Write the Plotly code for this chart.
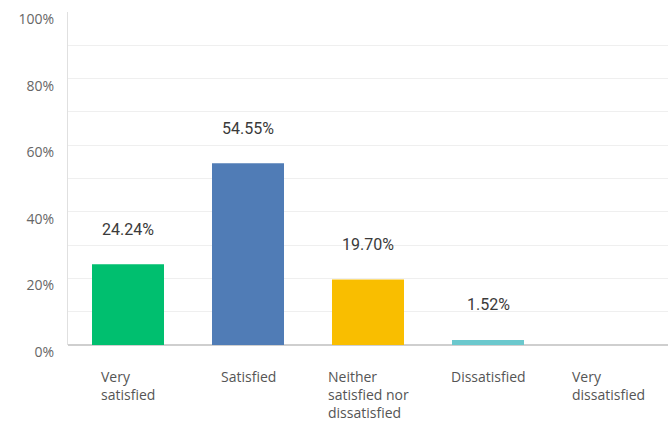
import plotly.graph_objects as go

categories = ["Very satisfied", "Satisfied", "Neither satisfied nor dissatisfied", "Dissatisfied", "Very dissatisfied"]
axis_labels = ["Very<br>satisfied", "Satisfied", "Neither<br>satisfied nor<br>dissatisfied", "Dissatisfied", "Very<br>dissatisfied"]
values = [24.24, 54.55, 19.70, 1.52, 0.0]
colors = ["#00BF6F", "#507CB6", "#F9BE00", "#6BC8CD", "#D25F90"]
tick_vals = [0, 20, 40, 60, 80, 100]
tick_text = ["0%", "20%", "40%", "60%", "80%", "100%"]

fig = go.Figure()
fig.add_trace(go.Bar(
    x=categories, y=values, marker=dict(color=colors, line=dict(width=0)),
    width=0.6, hoverinfo="skip",
))

annotations = []
for c, v in zip(categories, values):
    if v > 0:
        annotations.append(dict(
            x=c, y=v, xref="x", yref="y", text=f"{v:.2f}%", showarrow=False,
            yanchor="middle", yshift=35,
            font=dict(family="Roboto", size=16, color="#3A3A3A"),
        ))
for c, lab in zip(categories, axis_labels):
    annotations.append(dict(
        x=c, y=0, xref="x", yref="paper", text=lab, showarrow=False,
        xanchor="center", yanchor="top", align="left", yshift=-20,
        font=dict(family="Open Sans", size=14, color="#555555"),
    ))

fig.update_layout(
    width=671, height=433,
    margin=dict(l=68, r=3, t=12, b=88),
    paper_bgcolor="white", plot_bgcolor="white",
    showlegend=False,
    annotations=annotations,
    xaxis=dict(
        showticklabels=False, showgrid=False, zeroline=False,
        showline=False, range=[-0.5, 4.5], fixedrange=True,
    ),
    yaxis=dict(
        range=[0, 100], tickvals=tick_vals, ticktext=tick_text,
        showgrid=True, gridcolor="#EFEFEF", gridwidth=1,
        zeroline=True, zerolinecolor="#CFCFCF", zerolinewidth=2,
        showline=True, linecolor="#E0E0E0", linewidth=1,
        ticks="", ticklabelstandoff=10, ticklabelshift=7,
        tickfont=dict(family="Open Sans", size=14, color="#666666"),
        minor=dict(dtick=10, showgrid=True, gridcolor="#EFEFEF", gridwidth=1),
        fixedrange=True,
    ),
)

fig.write_html("out.html")
